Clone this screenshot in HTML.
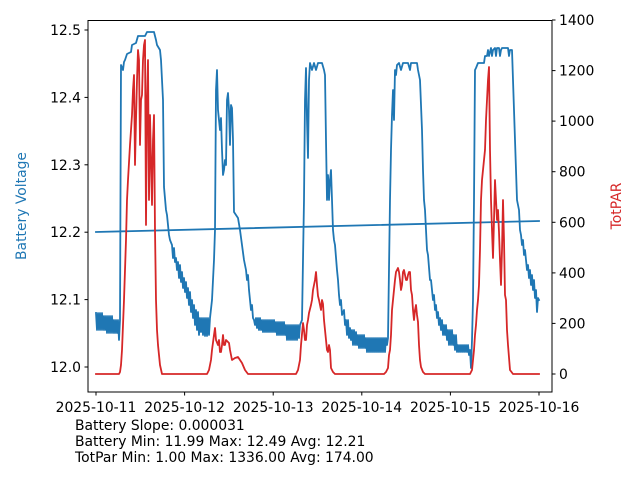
<!DOCTYPE html>
<html><head><style>
body{margin:0;background:#fff;}
svg{font-family:"DejaVu Sans","Liberation Sans",sans-serif;}
</style></head><body>
<svg width="640" height="480" viewBox="0 0 640 480" xmlns="http://www.w3.org/2000/svg">
<rect width="640" height="480" fill="#fff"/>
<g fill="none" stroke-linejoin="round" stroke-linecap="square" stroke-width="1.8">
<polyline stroke="#1f77b4" points="96,313 97,330 98,313 99,330 100,313 101,330 102,313 103,330 104,316 105,330 106,316 107,333 108,316 109,333 110,316 111,333 112,316 113,333 114,320 115,333 116,320 117,333 118,320 119,340 120,320 121,65 123,70 124,62 125,60 127,54 131,52 132,45 136,43 138,36 145,36 147,32 154,32 156,40 157,45 160,50 161,60 163,100 164,187 166,210 167,215 169,235 170,240 172,245 173,258 174,248 175,262 176,258 177,270 178,262 179,278 180,265 181,282 182,272 183,288 184,278 185,292 186,282 187,298 188,288 189,305 190,292 191,312 192,300 193,318 194,305 195,325 196,310 197,330 198,312 199,335 200,318 201,332 202,318 203,335 204,318 205,336 206,318 207,336 208,318 209,335 210,318 212,300 214,260 215,230 216,90 217,70 218,110 219,120 220,130 221,118 222,150 223,175 224,170 225,160 226,165 227,100 228,93 229,110 230,145 231,105 232,108 233,140 234,212 236,215 238,218 240,230 242,245 244,260 246,270 247,280 248,275 249,290 250,300 251,310 252,305 253,318 254,320 255,325 256,318 257,328 258,318 259,330 260,318 261,330 262,320 263,332 264,320 265,332 266,320 267,332 268,320 269,332 270,320 271,332 272,320 273,332 274,320 275,332 276,322 277,335 278,322 279,335 280,322 281,335 282,322 283,335 284,322 285,335 286,325 287,340 288,325 289,340 290,325 291,340 292,325 293,340 294,325 295,340 296,325 297,340 298,325 299,338 300,325 302,320 304,200 305,100 306,68 307,120 308,158 309,80 310,63 312,70 314,63 316,70 318,63 321,63 322,63 324,70 325,75 326,140 327,200 328,175 329,200 330,180 331,170 332,200 333,230 334,240 335,245 337,270 338,280 339,295 340,305 341,300 342,315 344,310 345,325 346,320 347,335 348,320 349,338 350,328 351,340 352,330 353,345 354,330 355,345 356,332 357,345 358,335 359,348 360,335 361,348 362,335 363,348 364,335 365,348 366,338 367,352 368,338 369,352 370,338 371,352 372,338 373,352 374,338 375,352 376,338 377,352 378,338 379,352 380,338 381,352 382,338 383,352 384,338 385,352 386,338 387,345 388,338 390,200 391,150 392,115 393,90 394,120 395,70 396,75 397,65 399,63 401,70 403,63 406,63 408,63 410,70 411,63 415,63 417,63 418,70 420,80 422,130 423,170 424,200 425,210 427,250 428,255 430,280 431,280 432,290 433,300 434,295 435,310 436,305 437,318 438,312 439,325 440,318 441,330 442,320 443,335 444,325 445,335 446,325 447,340 448,330 449,345 450,330 451,345 452,330 453,345 454,335 455,350 456,335 457,352 458,345 459,352 460,345 461,352 462,345 463,352 464,345 465,352 466,345 467,352 468,345 469,355 470,350 471,368 472,340 473,300 474,200 475,70 476,68 478,63 481,63 484,63 485,56 487,56 488,50 489,56 491,48 492,56 493,50 495,48 496,56 497,48 499,48 500,56 501,50 502,48 505,48 508,48 509,56 510,50 512,50 513,80 514,110 515,140 516,170 517,200 519,210 520,230 521,235 522,245 523,240 524,255 525,250 526,260 527,270 528,265 529,278 530,270 531,285 532,275 533,290 534,280 535,298 536,290 537,312 538,298 539,300"/>
<polyline stroke="#1f77b4" points="96,232 539,221"/>
<polyline stroke="#d62728" points="96,374 119,374 120,372 121,365 122,350 124,300 126,240 127,200 128,180 130,145 132,115 133,90 134,75 135,165 136,120 137,80 138,50 139,60 140,145 141,100 142,95 143,60 144,45 145,40 146,225 147,100 148,60 149,200 150,115 151,160 152,205 153,140 154,115 155,230 156,300 157,330 158,345 160,365 162,374 207,374 209,370 211,360 212,350 214,335 215,328 216,340 218,345 219,340 220,352 221,352 222,345 223,335 224,345 225,345 226,340 229,343 230,350 232,360 235,358 238,357 240,360 242,363 245,370 248,374 296,374 298,370 300,360 301,345 303,323 304,330 305,340 306,340 307,325 308,320 309,313 311,305 312,300 313,290 315,280 316,272 317,285 318,296 319,300 320,305 321,310 322,300 323,304 324,320 325,330 326,340 327,350 328,352 329,345 330,350 331,368 333,372 335,374 384,374 386,372 388,368 389,355 390,350 391,335 392,310 393,300 394,290 395,280 396,272 397,270 398,268 399,272 400,280 401,290 402,285 403,272 404,270 405,275 406,280 407,280 408,275 409,272 410,272 411,290 412,295 413,310 414,320 415,310 416,305 417,315 418,322 419,345 420,360 421,367 423,372 425,374 470,374 472,370 474,350 475,335 476,325 477,310 478,300 479,285 480,250 481,200 482,180 483,170 484,160 485,150 486,120 487,100 488,80 489,67 490,150 491,200 492,230 493,258 494,220 495,180 496,200 497,220 498,210 499,232 500,260 501,285 502,250 503,200 504,240 505,295 506,300 507,330 508,345 510,370 513,374 539,374"/>
</g>
<rect x="88" y="20.5" width="464" height="371.5" fill="none" stroke="#000" stroke-width="1"/>
<g stroke="#000" stroke-width="1">
<line x1="84.5" y1="367" x2="88" y2="367"/><line x1="84.5" y1="299.6" x2="88" y2="299.6"/><line x1="84.5" y1="232.2" x2="88" y2="232.2"/><line x1="84.5" y1="164.8" x2="88" y2="164.8"/><line x1="84.5" y1="97.4" x2="88" y2="97.4"/><line x1="84.5" y1="30" x2="88" y2="30"/>
<line x1="552" y1="374" x2="555.5" y2="374"/><line x1="552" y1="323.4" x2="555.5" y2="323.4"/><line x1="552" y1="272.9" x2="555.5" y2="272.9"/><line x1="552" y1="222.3" x2="555.5" y2="222.3"/><line x1="552" y1="171.7" x2="555.5" y2="171.7"/><line x1="552" y1="121.1" x2="555.5" y2="121.1"/><line x1="552" y1="70.6" x2="555.5" y2="70.6"/><line x1="552" y1="20" x2="555.5" y2="20"/>
<line x1="96" y1="392" x2="96" y2="395.5"/><line x1="184.6" y1="392" x2="184.6" y2="395.5"/><line x1="273.2" y1="392" x2="273.2" y2="395.5"/><line x1="361.8" y1="392" x2="361.8" y2="395.5"/><line x1="450.4" y1="392" x2="450.4" y2="395.5"/><line x1="539" y1="392" x2="539" y2="395.5"/>
</g>
<g font-size="13.9" fill="#000">
<g text-anchor="end">
<text x="81" y="372">12.0</text><text x="81" y="304.6">12.1</text><text x="81" y="237.2">12.2</text><text x="81" y="169.8">12.3</text><text x="81" y="102.4">12.4</text><text x="81" y="35">12.5</text>
</g>
<g text-anchor="start">
<text x="559" y="379">0</text><text x="559" y="328.4">200</text><text x="559" y="277.9">400</text><text x="559" y="227.3">600</text><text x="559" y="176.7">800</text><text x="559" y="126.1">1000</text><text x="559" y="75.6">1200</text><text x="559" y="25">1400</text>
</g>
<g text-anchor="middle">
<text x="96" y="412">2025-10-11</text><text x="184.6" y="412">2025-10-12</text><text x="273.2" y="412">2025-10-13</text><text x="361.8" y="412">2025-10-14</text><text x="450.4" y="412">2025-10-15</text><text x="539" y="412">2025-10-16</text>
</g>
<text x="26" y="206" fill="#1f77b4" text-anchor="middle" transform="rotate(-90 26 206)">Battery Voltage</text>
<text x="621" y="206" fill="#d62728" text-anchor="middle" transform="rotate(-90 621 206)">TotPAR</text>
<text x="75" y="430">Battery Slope: 0.000031</text>
<text x="75" y="446">Battery Min: 11.99 Max: 12.49 Avg: 12.21</text>
<text x="75" y="462">TotPar Min: 1.00 Max: 1336.00 Avg: 174.00</text>
</g>
</svg>
</body></html>
